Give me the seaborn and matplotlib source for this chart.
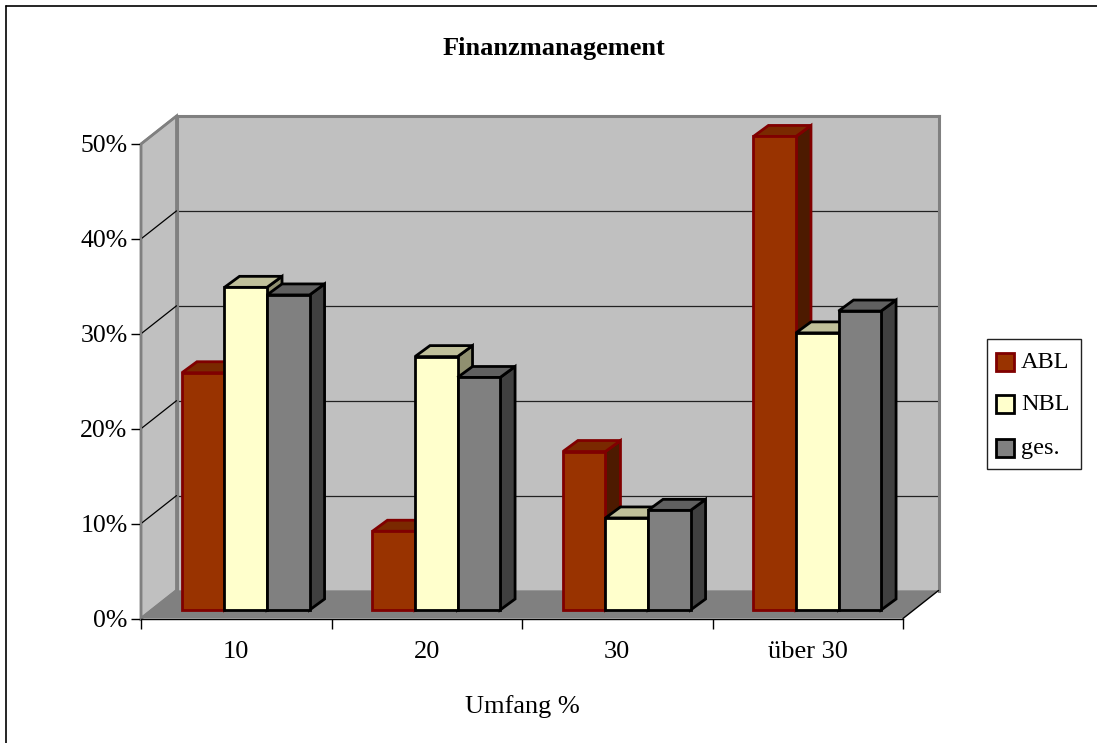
import matplotlib
matplotlib.use('Agg')
import matplotlib.pyplot as plt
from matplotlib.patches import Polygon, Rectangle
import pandas as pd
import seaborn as sns

categories = ['10', '20', '30', 'über 30']
abl = [25.0, 8.3, 16.7, 49.9]
nbl = [34.0, 26.7, 9.7, 29.2]
ges = [33.2, 24.5, 10.5, 31.5]
series_names = ['ABL', 'NBL', 'ges.']

W, H = 1097, 743
# front plane of the fake 3d box, in pixels
X0, X1, Y0, Y1 = 141, 903, 618.5, 144
WALL_DX, WALL_DY = 35.5, 28
BAR_DX, BAR_DY = 9.5, 8.5
SIDE_DX, SIDE_DY = 15, 11

face = {'ABL': '#993300', 'NBL': '#FFFFCC', 'ges.': '#808080'}
edge = {'ABL': '#800000', 'NBL': '#000000', 'ges.': '#000000'}
top = {'ABL': '#7A2900', 'NBL': '#C0C09A', 'ges.': '#606060'}
side = {'ABL': '#4D1A00', 'NBL': '#909070', 'ges.': '#404040'}

sns.set_style('white')
plt.rcParams['font.family'] = ['Liberation Serif', 'DejaVu Serif']
plt.rcParams['text.color'] = 'black'
plt.rcParams['axes.labelcolor'] = 'black'
plt.rcParams['xtick.color'] = 'black'
plt.rcParams['ytick.color'] = 'black'

df = pd.DataFrame({'umfang': categories * 3,
	'wert': abl + nbl + ges,
	'serie': [n for n in series_names for c in categories]})

fig = plt.figure(figsize = (W / 100, H / 100), dpi = 100)

def px_axes(x0, x1, y0, y1, z):
	a = fig.add_axes([x0 / W, 1 - y0 / H, (x1 - x0) / W, (y0 - y1) / H])
	a.set_zorder(z)
	a.patch.set_alpha(0)
	return a

# pixel space layer for frame, side wall and floor
frame = fig.add_axes([0, 0, 1, 1])
frame.set_xlim(0, W)
frame.set_ylim(H, 0)
frame.axis('off')
frame.set_zorder(0)
frame.plot([6, 6], [H, 5.5], color = 'black', lw = 1.2)
frame.plot([6, W], [5.5, 5.5], color = 'black', lw = 1.2)
frame.add_patch(Polygon([(X0, Y0), (X0, Y1), (X0 + WALL_DX, Y1 - WALL_DY),
	(X0 + WALL_DX, Y0 - WALL_DY)], fc = '#C0C0C0', ec = '#808080', lw = 2))

# back wall with the gridlines
wall = px_axes(X0 + WALL_DX, X1 + WALL_DX, Y0 - WALL_DY, Y1 - WALL_DY, 1)
wall.patch.set_alpha(1)
wall.patch.set_facecolor('#C0C0C0')
wall.set_xlim(0, 1)
wall.set_ylim(0, 50)
wall.set_xticks([])
wall.set_yticks([0, 10, 20, 30, 40, 50])
wall.tick_params(left = False, labelleft = False)
wall.grid(axis = 'y', color = '#222222', lw = 0.9)
for s in wall.spines.values():
	s.set_color('#808080')
	s.set_linewidth(2.2)
wall.spines['bottom'].set_visible(False)

# floor sits above the wall, diagonals run from front ticks to the gridlines
over = fig.add_axes([0, 0, 1, 1])
over.set_xlim(0, W)
over.set_ylim(H, 0)
over.axis('off')
over.patch.set_alpha(0)
over.set_zorder(2)
over.add_patch(Polygon([(X0, Y0), (X1, Y0), (X1 + WALL_DX, Y0 - WALL_DY),
	(X0 + WALL_DX, Y0 - WALL_DY)], fc = '#808080', ec = 'none'))
over.plot([X1, X1 + WALL_DX], [Y0, Y0 - WALL_DY], color = 'black', lw = 1)
for t in range(0, 60, 10):
	y = Y0 + (Y1 - Y0) * t / 50
	dark = t not in (0, 50)
	over.plot([X0, X0 + WALL_DX], [y, y - WALL_DY], color = 'black' if dark else '#808080', lw = 0.9 if dark else 1.6)

# front plane only carries the axes
front = px_axes(X0, X1, Y0, Y1, 3)
sns.barplot(data = df, x = 'umfang', y = 'wert', hue = 'serie', ax = front, alpha = 0, legend = False)
front.set_xlim(-0.5, 3.5)
front.set_ylim(0, 50)
front.set_yticks([0, 10, 20, 30, 40, 50])
front.set_yticklabels(['%d%%' % t for t in [0, 10, 20, 30, 40, 50]], fontsize = 18.5)
front.set_xticks([-0.5, 0.5, 1.5, 2.5, 3.5], minor = True)
front.set_xticks(range(4))
front.set_xticklabels(categories, fontsize = 19)
front.set_xlabel('Umfang %', fontsize = 19, labelpad = 23)
front.set_ylabel('')
front.tick_params(axis = 'x', which = 'major', length = 0, pad = 16)
front.tick_params(axis = 'x', which = 'minor', length = 7, width = 1, color = 'black', bottom = True)
front.tick_params(axis = 'y', length = 7.2, width = 1, color = 'black', left = True, pad = 2.5)
front.spines['top'].set_visible(False)
front.spines['right'].set_visible(False)
front.spines['left'].set_color('#808080')
front.spines['left'].set_linewidth(1.5)
front.spines['bottom'].set_color('black')
front.spines['bottom'].set_linewidth(1)

# bars on their own axes, shifted onto the floor
bar_ax = px_axes(X0 + BAR_DX, X1 + BAR_DX, Y0 - BAR_DY, Y1 - BAR_DY, 4)
sns.barplot(data = df, x = 'umfang', y = 'wert', hue = 'serie', ax = bar_ax, width = 0.67,
	gap = 0, palette = face, hue_order = series_names, legend = False, saturation = 1)
bar_ax.set_xlim(-0.5, 3.5)
bar_ax.set_ylim(0, 50)
bar_ax.axis('off')
dx = SIDE_DX * 4 / (X1 - X0)
dy = SIDE_DY * 50 / (Y0 - Y1)
for i, name in enumerate(series_names):
	cont = bar_ax.containers[i]
	for b in cont:
		x, w, h = b.get_x(), b.get_width(), b.get_height()
		z = 5 + i * 2
		b.set_edgecolor(edge[name])
		b.set_linewidth(2)
		b.set_zorder(z + 1)
		b.set_clip_on(False)
		bar_ax.add_patch(Polygon([(x + w, 0), (x + w + dx, dy), (x + w + dx, h + dy), (x + w, h)],
			fc = side[name], ec = edge[name], lw = 2, zorder = z, clip_on = False, joinstyle = 'miter'))
		bar_ax.add_patch(Polygon([(x, h), (x + dx, h + dy), (x + w + dx, h + dy), (x + w, h)],
			fc = top[name], ec = edge[name], lw = 2, zorder = z, clip_on = False, joinstyle = 'miter'))

# legend box
leg = fig.add_axes([0, 0, 1, 1])
leg.set_xlim(0, W)
leg.set_ylim(H, 0)
leg.axis('off')
leg.patch.set_alpha(0)
leg.set_zorder(6)
leg.add_patch(Rectangle((986.5, 339), 94, 130, fc = 'white', ec = '#222222', lw = 1))
for name, y in zip(series_names, [361.5, 404, 447.5]):
	leg.add_patch(Rectangle((996, y - 9), 18, 18, fc = face[name], ec = edge[name], lw = 2))
	leg.text(1021, y + 1, name, fontsize = 17.5, va = 'center', ha = 'left', color = 'black')

fig.text(554 / W, 1 - 48 / H, 'Finanzmanagement', fontsize = 19, fontweight = 'bold', ha = 'center', va = 'center')
plt.savefig('out.png', dpi = 100)
